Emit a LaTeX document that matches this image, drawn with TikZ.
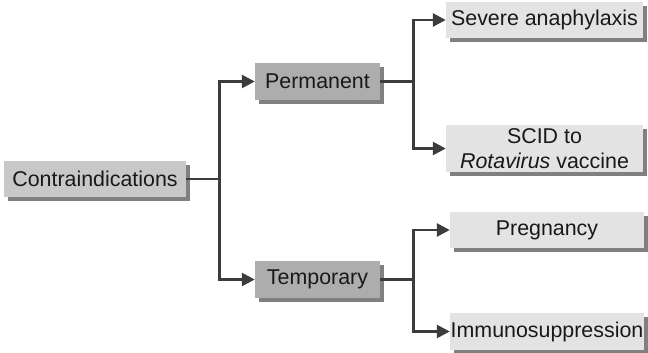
\documentclass[tikz,border=0pt]{standalone}
\usepackage{fontspec}
\setmainfont{Liberation Sans}
\usetikzlibrary{arrows.meta,shadows}
\definecolor{rootgray}{HTML}{C8C8C8}
\definecolor{midgray}{HTML}{ADADAD}
\definecolor{leafgray}{HTML}{E3E3E3}
\definecolor{shadegray}{HTML}{808080}
\definecolor{linegray}{HTML}{3C3C3C}
\begin{document}
\begin{tikzpicture}[x=1pt,y=-1pt,
  box/.style={inner sep=0pt,align=center,font=\fontsize{21.4}{25}\selectfont,text=black!90,
    drop shadow={shadow xshift=4pt,shadow yshift=-4pt,fill=shadegray,opacity=1}},
  link/.style={draw=linegray,line width=2.6pt},
  tip/.style={link,-{Triangle[length=13pt,width=13pt]}}]
\useasboundingbox (0,0) rectangle (648,353);
% boxes
\node[box,fill=rootgray,minimum width=182pt,minimum height=36pt] (contra) at (95,179) {Contraindications};
\node[box,fill=midgray,minimum width=125pt,minimum height=37pt] (perm) at (317.5,81.5) {Permanent};
\node[box,fill=midgray,minimum width=125pt,minimum height=37pt] (temp) at (317.5,279.5) {Temporary};
\node[box,fill=leafgray,minimum width=197pt,minimum height=36pt] (severe) at (544.5,20) {Severe anaphylaxis};
\node[box,fill=leafgray,minimum width=197pt,minimum height=47pt] (scid) at (544.5,148.5) {SCID to\\\textit{Rotavirus} vaccine};
\node[box,fill=leafgray,minimum width=194pt,minimum height=36pt] (preg) at (547,230) {Pregnancy};
\node[box,fill=leafgray,minimum width=194pt,minimum height=37pt] (immuno) at (547,331.5) {Immunosuppression};
% connectors
\draw[link] (contra.east) -- ++(33,0) coordinate (split);
\draw[tip] (split) |- (perm.west);
\draw[tip] (split) |- (temp.west);
\draw[link] (perm.east) -- ++(33,0) coordinate (splitp);
\draw[tip] (splitp) |- (severe.west);
\draw[tip] (splitp) |- (scid.west);
\draw[link] (temp.east) -- ++(33,0) coordinate (splitt);
\draw[tip] (splitt) |- (preg.west);
\draw[tip] (splitt) |- (immuno.west);
\end{tikzpicture}
\end{document}
